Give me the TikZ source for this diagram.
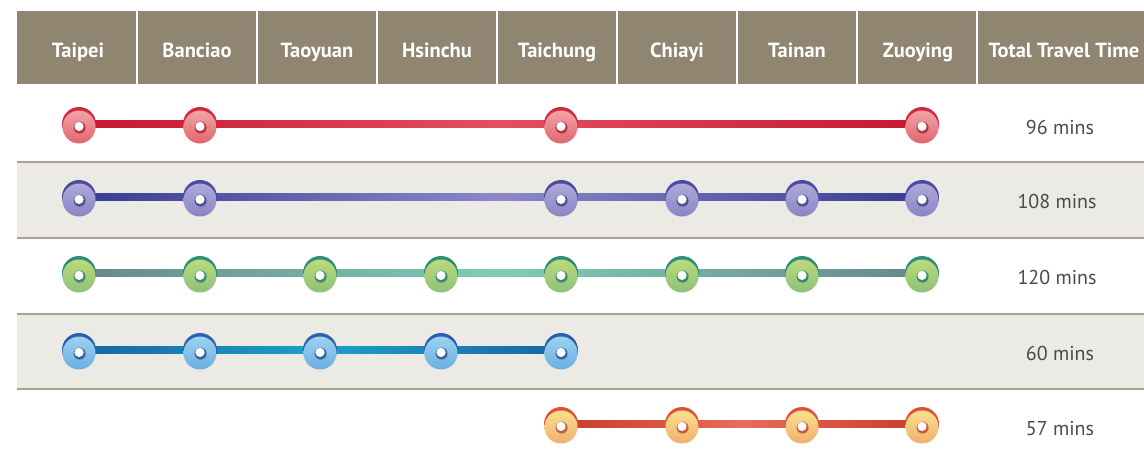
\documentclass[tikz,border=0pt]{standalone}
\usepackage{fontspec}
\setmainfont{PT Sans}
\usetikzlibrary{calc}
\definecolor{hdr}{HTML}{8F8571}
\definecolor{rowgray}{HTML}{ECEAE5}
\definecolor{sepline}{HTML}{ABA292}
\definecolor{timetxt}{HTML}{4A4A4A}
% red
\definecolor{rEnd}{HTML}{C41632}\definecolor{rMid}{HTML}{E5505E}
\definecolor{rRim}{HTML}{D02840}\definecolor{rTop}{HTML}{F2A4A6}\definecolor{rBot}{HTML}{E06670}
% purple
\definecolor{pEnd}{HTML}{363C92}\definecolor{pMid}{HTML}{8C88C8}
\definecolor{pRim}{HTML}{4E4AA0}\definecolor{pTop}{HTML}{ADA9D8}\definecolor{pBot}{HTML}{8A84C4}
% green
\definecolor{gEnd}{HTML}{66888A}\definecolor{gMid}{HTML}{80CCB8}
\definecolor{gRim}{HTML}{2E8E78}\definecolor{gTop}{HTML}{BCDA7A}\definecolor{gBot}{HTML}{8EC07A}
% blue
\definecolor{bEnd}{HTML}{1565A5}\definecolor{bMid}{HTML}{1FA0C8}
\definecolor{bRim}{HTML}{2A5EAE}\definecolor{bTop}{HTML}{9CD2F2}\definecolor{bBot}{HTML}{6AAEE0}
% orange
\definecolor{oEnd}{HTML}{C43E28}\definecolor{oMid}{HTML}{EA6A5C}
\definecolor{oRim}{HTML}{E0503A}\definecolor{oTop}{HTML}{F8E08C}\definecolor{oBot}{HTML}{F0B070}

\tikzset{
  hdrtext/.style={text=white,font=\fontsize{20.5}{22}\selectfont\bfseries,anchor=base},
  timetext/.style={text=timetxt,font=\fontsize{20}{22}\selectfont,anchor=base},
  sep/.style={draw=sepline,line width=1.5pt},
}
% #1 coordinate, #2 prefix of colours
\newcommand\stationdisc[2]{%
  \fill[#2Rim] (#1) circle (17);
  \shade[top color=#2Top,bottom color=#2Bot] ($(#1)+(0,3)$) circle (16.5);
  \fill[#2Rim!85!black,opacity=0.8] ($(#1)+(0.6,3.6)$) circle (6);
  \fill[white] ($(#1)+(0,2.4)$) circle (4.6);
}
% #1 from, #2 to, #3 prefix
\newcommand\routeline[3]{%
  \shade[left color=#3End,right color=#3End,middle color=#3Mid]
    ($(#1)+(0,-3.6)$) rectangle ($(#2)+(0,3.6)$);
}

\begin{document}
\begin{tikzpicture}[x=1pt,y=-1pt]
\useasboundingbox (0,0) rectangle (1144,459);
% header
\fill[hdr] (17,11) rectangle (1144,84);
\foreach \cx in {137,257,377,497,617,737,857,977}
  \draw[white,line width=1.2pt] (\cx,11) -- (\cx,84);
% gray rows
\fill[rowgray] (17,162) rectangle (1144,238);
\fill[rowgray] (17,314) rectangle (1144,389);
\foreach \ry in {162,238,314,389}
  \draw[sep] (17,\ry) -- (1144,\ry);
% header texts
\node[hdrtext] (hTaipei) at (78,57.5) {Taipei};
\node[hdrtext] (hBanciao) at (197,57.5) {Banciao};
\node[hdrtext] (hTaoyuan) at (317,57.5) {Taoyuan};
\node[hdrtext] (hHsinchu) at (437,57.5) {Hsinchu};
\node[hdrtext] (hTaichung) at (557,57.5) {Taichung};
\node[hdrtext] (hChiayi) at (677,57.5) {Chiayi};
\node[hdrtext] (hTainan) at (797,57.5) {Tainan};
\node[hdrtext] (hZuoying) at (918,57.5) {Zuoying};
\node[hdrtext] (hTotal) at (1064,57.5) {Total Travel Time};
% time labels
\node[timetext] (t1) at (1060,134) {96 mins};
\node[timetext] (t2) at (1057,208) {108 mins};
\node[timetext] (t3) at (1057,284) {120 mins};
\node[timetext] (t4) at (1060,360) {60 mins};
\node[timetext] (t5) at (1060,435) {57 mins};
% station coordinates
\def\xs{{79,200,320,441,561,682,802,922}}
\foreach \i in {1,...,8}{
  \pgfmathsetmacro\xx{\xs[\i-1]}
  \coordinate (a\i) at (\xx,124);
  \coordinate (b\i) at (\xx,197);
  \coordinate (c\i) at (\xx,273);
  \coordinate (d\i) at (\xx,350);
  \coordinate (e\i) at (\xx,424);
}
% row 1
\routeline{a1}{a8}{r}
\foreach \i in {1,2,5,8} {\stationdisc{a\i}{r}}
% row 2
\routeline{b1}{b8}{p}
\foreach \i in {1,2,5,6,7,8} {\stationdisc{b\i}{p}}
% row 3
\routeline{c1}{c8}{g}
\foreach \i in {1,...,8} {\stationdisc{c\i}{g}}
% row 4
\routeline{d1}{d5}{b}
\foreach \i in {1,...,5} {\stationdisc{d\i}{b}}
% row 5
\routeline{e5}{e8}{o}
\foreach \i in {5,...,8} {\stationdisc{e\i}{o}}
\end{tikzpicture}
\end{document}
